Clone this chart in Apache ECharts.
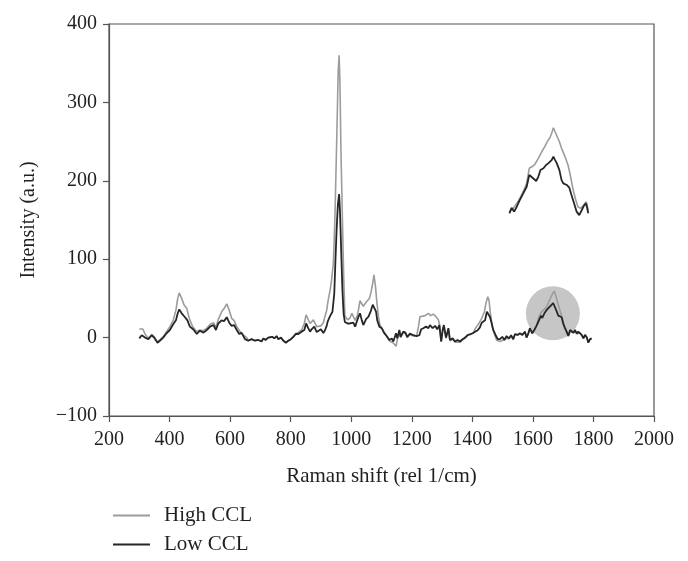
<!DOCTYPE html>
<html>
<head>
<meta charset="utf-8">
<script src="https://cdn.jsdelivr.net/npm/echarts/dist/echarts.min.js"></script>
<style>html,body{margin:0;padding:0;background:#fff;}#c{width:688px;height:561px;}</style>
</head>
<body>
<div id="c"></div>
<script>
const xTicks = [200, 400, 600, 800, 1000, 1200, 1400, 1600, 1800, 2000];
const yTicks = [-100, 0, 100, 200, 300, 400];
const seriesNames = ['High CCL', 'Low CCL'];

const lowShift = [300,308,319,330,341,349,360,368,379,390,
401,412,421,427,432,440,451,459,467,478,
490,500,512,523,534,545,553,561,572,580,
589,597,605,613,622,630,638,649,660,671,
682,693,704,710,717,726,732,739,746,754,
759,768,776,784,792,801,809,817,825,836,
845,851,858,864,869,878,886,891,900,908,
913,919,922,926,931,938,944,948,952,956,
960,963,967,971,975,979,988,996,1002,1007,
1013,1018,1024,1029,1035,1040,1049,1057,1064,1071,
1075,1082,1086,1093,1101,1108,1117,1126,1134,1139,
1148,1152,1159,1163,1172,1179,1185,1194,1205,1216,
1225,1231,1238,1247,1255,1260,1269,1277,1284,1291,
1297,1302,1306,1313,1321,1326,1335,1343,1351,1359,
1368,1376,1384,1392,1401,1409,1417,1425,1431,1436,
1442,1448,1453,1458,1464,1469,1477,1484,1491,1499,
1506,1513,1521,1528,1535,1541,1550,1557,1565,1574,
1579,1585,1590,1598,1605,1612,1620,1627,1631,1638,
1645,1651,1656,1662,1667,1673,1678,1684,1689,1695,
1700,1706,1711,1717,1723,1728,1734,1739,1745,1750,
1756,1761,1767,1772,1778,1783,1789,1794];
const lowIntensity = [-1,3,0,-2,3,0,-6.5,-4,0,5.5,
9.7,17,22,31,36,31,26,22,14,10.6,
4.6,8.8,6.3,9.7,14,16,9.7,18,22,21,
26,19,15,16,9.7,4.6,6,-2,-4,-2,
-4,-3,-5,-1,-3,0,-2,1,-1,2,
-2,0,-4,-6.5,-4,-2,1,4.6,4.6,7.6,
9.7,18,12,7.6,10.6,14,7,5.5,10.6,6,
9,15,20,24,28,33,56,100,140,170,
183,160,110,60,30,20,18,18,16,19,
14,20,26.7,31,22,16,23.5,26.7,33,42,
40.5,33,22,14,12,6.3,2,-3,-1,-5,
5.5,-1,9.7,1,7.6,6.3,1,5,3,2,
3,10.6,12,14,12,16,12,15,10.6,16,
-5,9.7,16,0,12,-3,-1,-5,-3,-5,
-2,0,3,4,5.5,7.6,9,13,19,17,
22,33,35,26.7,18,9.7,3,-2,-2,1,
-3,2,-1,3,-2,4.6,3.5,5.5,3.5,7.6,
0,5.5,12,5.5,10,15,22,28,25,31,
35,37,39.5,38.7,44,38.7,34,28,27,26,
18,12,8,2,9.7,12,6,9.7,5,7.6,
6,3.5,-1,3.5,0.5,-6.5,-2,-1];

const highShift = [300,312,319,330,341,349,360,368,379,390,
401,412,421,427,432,440,448,457,465,476,
490,500,512,523,534,545,553,561,572,580,
589,597,605,613,622,633,644,655,660,671,
682,693,704,710,717,726,732,739,746,754,
759,768,776,784,792,801,809,817,825,836,
845,851,856,864,869,875,878,886,892,900,
908,913,919,924,930,935,941,946,952,957,
960,963,966,971,975,979,988,996,1002,1007,
1013,1021,1029,1035,1040,1046,1051,1060,1065,1071,
1075,1080,1084,1090,1095,1104,1115,1126,1139,1148,
1152,1159,1163,1172,1179,1185,1194,1205,1216,1222,
1227,1233,1244,1255,1262,1271,1280,1288,1293,1297,
1302,1306,1313,1321,1326,1335,1343,1348,1359,1368,
1376,1384,1392,1403,1409,1414,1420,1425,1431,1440,
1445,1451,1455,1459,1466,1473,1480,1491,1502,1513,
1521,1528,1535,1541,1550,1557,1565,1574,1579,1585,
1590,1598,1605,1612,1620,1629,1638,1646,1653,1660,
1665,1671,1676,1682,1690,1697,1706,1711,1717,1723,
1728,1734,1739,1745,1750,1756,1761,1767,1772,1778,
1783,1789,1794];
const highIntensity = [11,11,4.6,-1,4,1,-5.5,-3,1,7.6,
14,22,35,50,57,50,41.6,37,24.6,14,
7.6,9.7,9,12,17,19,13,23,33,37,
43,35,24.6,22,14,7.6,3,0,-3.5,-2,
-3.5,-3,-4.5,-1,-2.5,0,-2,1,-1,2,
-2,0,-4,-6,-4,-1.5,1.5,5.5,6.3,9.7,
18,29,30,18,20,22.6,21,14,16,15,
19,26.7,35,48,60,73,95,150,250,340,
360,320,240,150,80,28,22.6,25,31,26.7,
22,29,47,48.5,40,42,46,50,57,69,
80,66,48,26.7,16,9.7,3,-4,-7,-11,
-3,8,0,6.5,5,0,4,2,2,14,
26.7,29,28,31,28,30,26.7,22.6,14,-5,
8,14,-1,10,-4,-2,-6,-6,-6,-3,
-1,3,4.5,5.5,11,14,17,17,24.6,33,
44,52,48,33,14,4.6,-3,-5,-3,-1,
-1.5,2.5,-2.5,4,3,5,3,7,0,5,
11,5.5,10,16,26.7,33,36,39.5,46,52,
56,59.5,53,44,34,24.6,12,8,2,9,
11,6,9,5,7,6,3,-1,3,0,
-6,-2,-1];

// Enlarged inset of the circled 1565-1753 region
const insetLowShift = [1566,1571,1577,1583,1590,1598,1606,1612,1616,1621,
1628,1633,1638,1645,1651,1656,1660,1664,1668,1672,
1676,1682,1687,1691,1699,1705,1710,1716,1722,1728,
1734,1739,1744,1749];
const insetLowIntensity = [4.9,8.6,6,9.3,13.8,18.3,22.7,30.6,31.7,28.4,
26.6,29.4,33.9,35.1,37.3,38.4,37.3,40.6,42.9,40.6,
38.4,33.9,27.2,25,23.9,22.1,17.2,11.6,6,3.7,
7.1,10,11.6,4.9];
const insetHighShift = [1566,1575,1583,1590,1598,1606,1612,1618,1625,1633,
1641,1648,1656,1660,1664,1668,1672,1676,1682,1687,
1695,1702,1708,1714,1720,1725,1731,1737,1744,1749];
const insetHighIntensity = [6,8.2,11.6,14.9,19.4,25,35.1,36.1,37.8,41.8,
46.2,49.6,54.1,55.6,58.6,62.3,59.6,58.6,52.9,48.5,
42.9,37.3,29.4,20.5,13.8,9.3,8.2,10,12.7,7.1];

const highlightCenter = [[1666, 31]];

function pairs(xs, ys) { return xs.map((x, i) => [x, ys[i]]); }

const FONT = "'Liberation Serif', 'Times New Roman', serif";
const TXT = '#231f20';
const AX = '#555555';
const GRAY = '#9c9c9c';
const DARK = '#262626';

const chart = echarts.init(document.getElementById('c'), null, {renderer: 'canvas'});
chart.setOption({
  animation: false,
  backgroundColor: '#ffffff',
  textStyle: {fontFamily: FONT},
  grid: [
    {left: 109, right: 34, top: 24, bottom: 145, show: true, borderColor: AX, borderWidth: 1.2, backgroundColor: 'transparent'},
    {left: 509, width: 81, top: 116.3, height: 119.2}
  ],
  xAxis: [
    {
      type: 'value', gridIndex: 0, min: 200, max: 2000, interval: 200,
      name: 'Raman shift (rel 1/cm)', nameLocation: 'middle', nameGap: 50,
      nameTextStyle: {fontFamily: FONT, fontSize: 21, color: TXT},
      axisLine: {show: true, onZero: false, lineStyle: {color: AX, width: 1.2}},
      axisTick: {show: true, inside: false, length: 6, lineStyle: {color: AX, width: 1.2}},
      axisLabel: {fontFamily: FONT, fontSize: 20, color: TXT, margin: 14,
        formatter: v => xTicks.includes(v) ? String(v) : ''},
      splitLine: {show: false}
    },
    {type: 'value', gridIndex: 1, min: 1565, max: 1753, show: false}
  ],
  yAxis: [
    {
      type: 'value', gridIndex: 0, min: -100, max: 400, interval: 100,
      name: 'Intensity (a.u.)', nameLocation: 'middle', nameGap: 70, nameRotate: 90,
      nameTextStyle: {fontFamily: FONT, fontSize: 20, color: TXT},
      axisLine: {show: true, onZero: false, lineStyle: {color: AX, width: 1.2}},
      axisTick: {show: true, inside: false, length: 6, lineStyle: {color: AX, width: 1.2}},
      axisLabel: {fontFamily: FONT, fontSize: 20, color: TXT, margin: 12,
        formatter: v => yTicks.includes(v) ? (v < 0 ? '\u2212' + Math.abs(v) : String(v)) : ''},
      splitLine: {show: false}
    },
    {type: 'value', gridIndex: 1, min: -10, max: 70, show: false}
  ],
  legend: {
    orient: 'vertical', left: 108, top: 500, height: 60,
    icon: 'rect', itemWidth: 37, itemHeight: 2, itemGap: 8,
    data: seriesNames,
    textStyle: {fontFamily: FONT, fontSize: 21, color: TXT, padding: [0, 0, 0, 9]}
  },
  series: [
    {
      type: 'scatter', name: 'region', xAxisIndex: 0, yAxisIndex: 0,
      data: highlightCenter, symbol: 'circle', symbolSize: 54, silent: true, z: 1,
      itemStyle: {color: '#c6c6c6', opacity: 1}
    },
    {
      type: 'line', name: seriesNames[0], xAxisIndex: 0, yAxisIndex: 0,
      data: pairs(highShift, highIntensity), showSymbol: false, symbol: 'none', z: 3,
      lineStyle: {color: GRAY, width: 1.6}, itemStyle: {color: GRAY}
    },
    {
      type: 'line', name: seriesNames[1], xAxisIndex: 0, yAxisIndex: 0,
      data: pairs(lowShift, lowIntensity), showSymbol: false, symbol: 'none', z: 4,
      lineStyle: {color: DARK, width: 1.8}, itemStyle: {color: DARK}
    },
    {
      type: 'line', name: seriesNames[0], xAxisIndex: 1, yAxisIndex: 1,
      data: pairs(insetHighShift, insetHighIntensity), showSymbol: false, symbol: 'none', z: 3,
      lineStyle: {color: GRAY, width: 1.6}, itemStyle: {color: GRAY}
    },
    {
      type: 'line', name: seriesNames[1], xAxisIndex: 1, yAxisIndex: 1,
      data: pairs(insetLowShift, insetLowIntensity), showSymbol: false, symbol: 'none', z: 4,
      lineStyle: {color: DARK, width: 1.8}, itemStyle: {color: DARK}
    }
  ]
});
</script>
</body>
</html>
